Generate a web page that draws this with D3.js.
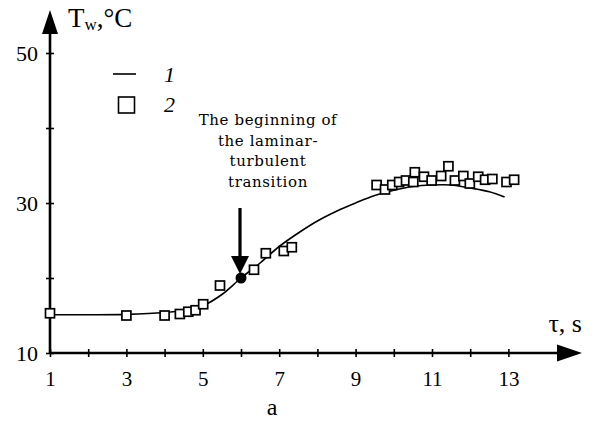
<!DOCTYPE html>
<html>
<head>
<meta charset="utf-8">
<script src="https://cdn.jsdelivr.net/npm/d3@7/dist/d3.min.js"></script>
<style>
	html, body { margin: 0; padding: 0; background: #fff; }
	svg { display: block; }
</style>
</head>
<body>
<div id="chart"></div>
<script>
'use strict';

// curve 1 (fit)
var curveX = [1, 2, 3, 4, 4.5, 5, 5.5, 6, 6.5, 7, 7.5, 8, 8.5, 9, 9.5, 10, 10.5, 11, 11.5, 12, 12.5, 12.9];
var curveT = [15.1, 15.1, 15.15, 15.4, 15.7, 16.3, 17.8, 20.0, 22.0, 24.2, 26.0, 27.6, 28.9, 30.0, 31.0, 31.7, 32.2, 32.4, 32.4, 32.0, 31.5, 30.8];

// series 2 (measured squares)
var measX = [1, 3, 4, 4.4, 4.62, 4.81, 5.01, 5.45, 6.34, 6.65, 7.12, 7.33, 9.55, 9.77, 9.96, 10.14, 10.32, 10.51, 10.55, 10.79, 10.99, 11.24, 11.43, 11.6, 11.82, 11.99, 12.21, 12.39, 12.58, 12.95, 13.15];
var measT = [15.3, 15.0, 15.0, 15.2, 15.5, 15.7, 16.5, 19.0, 21.1, 23.3, 23.6, 24.1, 32.4, 31.8, 32.4, 32.8, 33.0, 32.8, 34.1, 33.5, 33.0, 33.6, 34.9, 33.0, 33.6, 32.6, 33.5, 33.1, 33.2, 32.8, 33.1];

// start of the laminar-turbulent transition
var onsetX = [6];
var onsetT = [20];

var xTicks = [1, 2, 3, 4, 5, 6, 7, 8, 9, 10, 11, 12, 13];
var xLabels = [1, 3, 5, 7, 9, 11, 13];
var yTicks = [10, 20, 30, 40, 50];
var yLabels = [10, 30, 50];
var noteLines = ['The beginning of', 'the laminar-', 'turbulent', 'transition'];

var W = 594, H = 421;
var serif = "'Liberation Serif', 'Times New Roman', serif";

var svg = d3.select('#chart').append('svg')
	.attr('width', W)
	.attr('height', H);

var x = d3.scaleLinear().domain([1, 13]).range([50, 508.4]);
var y = d3.scaleLinear().domain([10, 50]).range([353, 53]);

//x axis ----------------------------------------------------
var gx = svg.append('g')
	.attr('transform', 'translate(0,' + y(10) + ')')
	.call(d3.axisBottom(x)
		.tickValues(xTicks)
		.tickSize(4)
		.tickPadding(14)
		.tickFormat(function(d) { return xLabels.indexOf(d) >= 0 ? d : ''; }));
gx.attr('font-family', serif).attr('font-size', 21);
gx.select('.domain').remove();
gx.selectAll('.tick line').attr('y1', -4).attr('y2', 4).attr('stroke', '#000').attr('stroke-width', 1.6);
gx.selectAll('.tick text').attr('fill', '#000').attr('dy', '0.71em');

//y axis ----------------------------------------------------
var gy = svg.append('g')
	.attr('transform', 'translate(' + x(1) + ',0)')
	.call(d3.axisLeft(y)
		.tickValues(yTicks)
		.tickSize(4)
		.tickPadding(8)
		.tickFormat(function(d) { return yLabels.indexOf(d) >= 0 ? d : ''; }));
gy.attr('font-family', serif).attr('font-size', 22);
gy.select('.domain').remove();
gy.selectAll('.tick line').attr('x1', -4).attr('x2', 4).attr('stroke', '#000').attr('stroke-width', 1.6);
gy.selectAll('.tick text').attr('fill', '#000');

//axis lines with arrows
var ax = svg.append('g').attr('stroke', '#000').attr('stroke-width', 2.6);
ax.append('line').attr('x1', x(1)).attr('y1', y(10)).attr('x2', 560).attr('y2', y(10));
ax.append('line').attr('x1', x(1)).attr('y1', y(10)).attr('x2', x(1)).attr('y2', 30);

svg.append('path')
	.attr('d', 'M582,' + y(10) + 'L557,' + (y(10) - 8.5) + 'L557,' + (y(10) + 8.5) + 'Z')
	.attr('fill', '#000');
svg.append('path')
	.attr('d', 'M' + x(1) + ',10L' + (x(1) - 8) + ',34L' + (x(1) + 8) + ',34Z')
	.attr('fill', '#000');

//axis titles
var ty = svg.append('text')
	.attr('x', 68).attr('y', 27)
	.attr('font-family', serif).attr('font-size', 27);
ty.append('tspan').text('T');
ty.append('tspan').attr('dy', 3).attr('font-size', 17).text('w');
ty.append('tspan').attr('dy', -3).text(',°C');

svg.append('text')
	.attr('x', 582).attr('y', 332)
	.attr('text-anchor', 'end')
	.attr('font-family', serif).attr('font-size', 26)
	.text('τ, s');

svg.append('text')
	.attr('x', 272).attr('y', 415)
	.attr('text-anchor', 'middle')
	.attr('font-family', serif).attr('font-size', 24)
	.text('a');

//curve -----------------------------------------------------
var line = d3.line()
	.x(function(d, i) { return x(curveX[i]); })
	.y(function(d, i) { return y(curveT[i]); })
	.curve(d3.curveCatmullRom.alpha(0.5));

svg.append('path')
	.datum(curveX)
	.attr('d', line)
	.attr('fill', 'none')
	.attr('stroke', '#000')
	.attr('stroke-width', 1.6);

//measured squares
var sq = 9;
svg.append('g').selectAll('rect')
	.data(measX)
	.enter().append('rect')
	.attr('x', function(d) { return x(d) - sq / 2; })
	.attr('y', function(d, i) { return y(measT[i]) - sq / 2; })
	.attr('width', sq)
	.attr('height', sq)
	.attr('fill', '#fff')
	.attr('stroke', '#000')
	.attr('stroke-width', 1.7);

//onset dot and arrow
svg.append('g').selectAll('circle')
	.data(onsetX)
	.enter().append('circle')
	.attr('cx', function(d) { return x(d); })
	.attr('cy', function(d, i) { return y(onsetT[i]); })
	.attr('r', 5.5)
	.attr('fill', '#000');

var ox = x(onsetX[0]), oy = y(onsetT[0]);
svg.append('line')
	.attr('x1', ox - 1).attr('y1', 208)
	.attr('x2', ox - 1).attr('y2', oy - 20)
	.attr('stroke', '#000').attr('stroke-width', 3.2);
svg.append('path')
	.attr('d', 'M' + (ox - 1) + ',' + (oy - 4) + 'L' + (ox - 10) + ',' + (oy - 22) + 'L' + (ox + 8) + ',' + (oy - 22) + 'Z')
	.attr('fill', '#000');

//annotation text
svg.append('g').selectAll('text')
	.data(noteLines)
	.enter().append('text')
	.attr('x', 268)
	.attr('y', function(d, i) { return 125 + i * 20.6; })
	.attr('text-anchor', 'middle')
	.attr('font-family', "'DejaVu Serif', serif")
	.attr('font-size', 15)
	.attr('letter-spacing', 0.6)
	.text(function(d) { return d; });

//legend
var lg = svg.append('g');
lg.append('line').attr('x1', 113).attr('x2', 136).attr('y1', 74).attr('y2', 74)
	.attr('stroke', '#000').attr('stroke-width', 1.6);
lg.append('rect').attr('x', 118.5).attr('y', 97).attr('width', 16).attr('height', 16)
	.attr('fill', '#fff').attr('stroke', '#000').attr('stroke-width', 1.6);
lg.selectAll('text')
	.data(['1', '2'])
	.enter().append('text')
	.attr('x', 164)
	.attr('y', function(d, i) { return 82 + i * 30; })
	.attr('font-family', serif)
	.attr('font-style', 'italic')
	.attr('font-size', 22)
	.text(function(d) { return d; });
</script>
</body>
</html>
